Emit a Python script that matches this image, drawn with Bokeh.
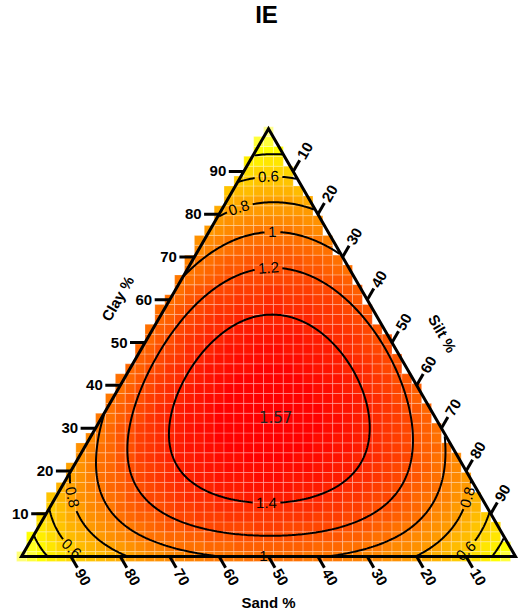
import math
import colorsys
import numpy as np
from bokeh.plotting import figure
from bokeh.models import Range1d
from bokeh.core.properties import value
from bokeh.embed import file_html
from bokeh.resources import INLINE
from contourpy import contour_generator

# ---------------- data ----------------
TITLE = "IE"
# points where the IE surface crosses a contour level (clay %, silt %, IE)
OBS_CLAY = [4.4, 10.7, 21, 34, 49, 64, 78, 86, 92.5,
            5.3, 10.2, 18.4, 27.7, 43.5, 69.5, 82.8, 87.4, 93,
            0, 0, 0, 0, 0, 0, 0,
            93.5, 88.4, 84.2, 77.5, 68.0, 56.7,
            32.7,
            11.5, 30.2, 30.2, 40.4, 40.4, 21.7, 19.4,
            26.4, 4.2, 30.2, 68.5, 53.5, 62.9, 55.2, 11.5, 10.1,
            22.4, 22.4, 74.6, 69.9, 1.4, 1.9, 0.3,
            10, 9.1, 81.6,
            2.1, 3.0,
            100, 0, 0]
OBS_SILT = [0, 0, 0, 0, 0, 0, 0, 0, 0,
            94.7, 89.8, 81.6, 72.3, 56.5, 30.5, 17.2, 12.6, 7,
            5.5, 13, 22, 50, 80, 87.7, 97.5,
            3.25, 5.8, 7.9, 11.25, 16.0, 21.65,
            35.1,
            44.1, 15.5, 54.9, 12, 47.4, 21.4, 58.3,
            7.9, 48.3, 63.2, 12.7, 6.9, 30.5, 41, 20.4, 69.7,
            4.2, 74, 3.0, 28.2, 25.4, 73.8, 48.9,
            6.3, 83.9, 3.1,
            9.5, 87,
            0, 0, 100]
OBS_VALUE = [0.4, 0.6, 0.8, 1.0, 1.12, 1.0, 0.8, 0.6, 0.4,
             0.4, 0.6, 0.8, 1.0, 1.2, 1.0, 0.8, 0.6, 0.4,
             0.4, 0.6, 0.8, 0.97, 0.8, 0.6, 0.4,
             0.4, 0.6, 0.8, 1.0, 1.2, 1.4,
             1.57,
             1.4, 1.4, 1.4, 1.4, 1.4, 1.4, 1.4,
             1.2, 1.2, 1.2, 1.2, 1.2, 1.2, 1.2, 1.2, 1.2,
             1.0, 1.0, 1.0, 1.0, 1.0, 1.0, 1.0,
             0.8, 0.8, 0.8,
             0.6, 0.6,
             0.2, 0.2, 0.2]
CONTOUR_LEVELS = [0.4, 0.6, 0.8, 1.0, 1.2, 1.4]
PEAK_TEXT = "1.57"
PEAK_CLAY = 32.7
PEAK_SILT = 35.1
TICKS = [10, 20, 30, 40, 50, 60, 70, 80, 90]
AXIS_NAMES = ["Clay %", "Silt %", "Sand %"]

# ---------------- layout ----------------
W, H = 522, 611
S = 4.94            # px per ternary unit
PX0, PY0 = 21, 556  # page position of the sand corner
SQ3 = math.sqrt(3) / 2
FONT = value("Liberation Sans")


def page(px, py):
    return (px - PX0) / S, (PY0 - py) / S


def tern_xy(clay, silt):
    clay = np.asarray(clay, float)
    silt = np.asarray(silt, float)
    return silt + clay / 2, clay * SQ3


def basis(c, t):
    x1, x2 = c, t
    x3 = 1 - c - t
    return np.stack([x1, x2, x3, x1 * x2, x1 * x3, x2 * x3,
                     x1 * x2 * (x1 - x2), x1 * x3 * (x1 - x3), x2 * x3 * (x2 - x3),
                     x1 * x2 * (x1 - x2) ** 2, x1 * x3 * (x1 - x3) ** 2, x2 * x3 * (x2 - x3) ** 2,
                     x1 ** 2 * x2 * x3, x1 * x2 ** 2 * x3, x1 * x2 * x3 ** 2], axis=-1)


A = basis(np.array(OBS_CLAY) / 100, np.array(OBS_SILT) / 100)
bv = np.array(OBS_VALUE)
coef = np.linalg.solve(A.T @ A + 1e-5 * np.eye(A.shape[1]), A.T @ bv)


def surface(X, Y):
    clay = Y / SQ3
    silt = X - clay / 2
    return basis(clay / 100, silt / 100) @ coef


ZMAX = float(PEAK_TEXT)
ZYEL = 0.36


def cell_color(z):
    zq = round(z / 0.04) * 0.04
    if zq >= ZYEL:
        hue = 60 * min(max((ZMAX - zq) / (ZMAX - ZYEL), 0), 1)
        sat = 1.0
    else:
        hue = 60
        sat = max(0.45, 1 - (ZYEL - zq) / 0.35)
    r, g, b = colorsys.hsv_to_rgb(hue / 360, sat, 1)
    return "#%02x%02x%02x" % (int(r * 255 + .5), int(g * 255 + .5), int(b * 255 + .5))


p = figure(width=W, height=H, x_range=Range1d(page(0, 0)[0], page(W, 0)[0]),
           y_range=Range1d(page(0, H)[1], page(0, 0)[1]),
           x_axis_type=None, y_axis_type=None, toolbar_location=None,
           output_backend="svg", min_border=0, outline_line_color=None)
p.background_fill_color = "white"

# ---------------- cells ----------------
cx, cy = np.meshgrid(np.arange(0, 100.01, 2), np.arange(0, 87, 2))
cl = cy / SQ3
si = cx - cl / 2
sa = 100 - cl - si
inside = (si >= -1.0) & (sa >= 0.3)
cxs = cx[inside]
cys = cy[inside]
czs = surface(cxs, cys)
p.rect(x=cxs, y=cys, width=2, height=2, fill_color=[cell_color(z) for z in czs],
       line_color="white", line_alpha=0.25, line_width=1)

# ---------------- contours ----------------
gx = np.arange(0, 100.001, 0.4)
gy = np.arange(0, 86.7, 0.4)
GX, GY = np.meshgrid(gx, gy)
GZ = surface(GX, GY)
gcl = GY / SQ3
gsi = GX - gcl / 2
gsa = 100 - gcl - gsi
mask = (gsi < -0.01) | (gsa < -0.01)
gen = contour_generator(x=gx, y=gy, z=np.ma.array(GZ, mask=mask))
lines = {lv: [np.asarray(l) for l in gen.lines(lv) if len(l) > 1] for lv in CONTOUR_LEVELS}

LABELS = [("0.6", 0.6, 268, 178), ("0.8", 0.8, 238, 207), ("1", 1.0, 272, 226),
          ("1.2", 1.2, 267, 265), ("1.4", 1.4, 267, 507), ("1", 1.0, 263, 555),
          ("0.8", 0.8, 73, 497), ("0.6", 0.6, 73, 546), ("0.8", 0.8, 460, 494),
          ("0.6", 0.6, 458, 543)]
FS = 15
lab_x, lab_y, lab_t, lab_a = [], [], [], []
for txt, lv, px, py in LABELS:
    tx, ty = page(px, py)
    best = None
    for k, ln in enumerate(lines[lv]):
        d = np.hypot(ln[:, 0] - tx, ln[:, 1] - ty)
        i = int(np.argmin(d))
        if best is None or d[i] < best[0]:
            best = (d[i], k, i)
    if best is not None and best[0] * S < 16:
        _, k, i = best
        ln = lines[lv][k]
        i0, i1 = max(i - 3, 0), min(i + 3, len(ln) - 1)
        ang = math.atan2(ln[i1, 1] - ln[i0, 1], ln[i1, 0] - ln[i0, 0])
        if ang > math.pi / 2:
            ang -= math.pi
        if ang <= -math.pi / 2:
            ang += math.pi
        cxl, cyl = ln[i]
    else:
        cxl, cyl, ang = tx, ty, 0.0
    lab_x.append(cxl); lab_y.append(cyl); lab_t.append(txt); lab_a.append(ang)
    wpx = FS * sum(0.278 if ch == "." else 0.556 for ch in txt)
    hw = (wpx / 2 + 2) / S
    hh = 6.5 / S
    new = []
    for ln2 in lines[lv]:
        dx = ln2[:, 0] - cxl
        dy = ln2[:, 1] - cyl
        u = dx * math.cos(ang) + dy * math.sin(ang)
        v = -dx * math.sin(ang) + dy * math.cos(ang)
        keep = ~((np.abs(u) < hw) & (np.abs(v) < hh))
        seg = []
        for j in range(len(ln2)):
            if keep[j]:
                seg.append(ln2[j])
            else:
                if len(seg) > 1:
                    new.append(np.array(seg))
                seg = []
        if len(seg) > 1:
            new.append(np.array(seg))
    lines[lv] = new

mxs, mys = [], []
for lv in CONTOUR_LEVELS:
    for ln in lines[lv]:
        mxs.append(list(ln[:, 0])); mys.append(list(ln[:, 1]))
p.multi_line(mxs, mys, line_color="black", line_width=2)

p.text(x=lab_x, y=lab_y, text=lab_t, angle=lab_a, text_font=FONT, text_font_size="15px",
       text_align="center", text_baseline="middle", text_color="black")
pkx, pky = tern_xy(PEAK_CLAY, PEAK_SILT)
p.text(x=[float(pkx)], y=[float(pky)], text=[PEAK_TEXT], text_font=value("DejaVu Sans"),
       text_font_size="15px", text_align="center", text_baseline="middle", text_color="#222222")

# ---------------- ticks ----------------
LC, LO, G = 15 / S, 13 / S, 2.5 / S
txs, tys = [], []
cl_x, cl_y, si_x, si_y, sa_x, sa_y = [], [], [], [], [], []
for k in TICKS:
    ex, ey = tern_xy(k, 0)
    txs.append([ex, ex - LC]); tys.append([ey, ey])
    cl_x.append(ex - LC - G); cl_y.append(ey)
    ex, ey = tern_xy(100 - k, k)
    txs.append([ex, ex + 0.5 * LO]); tys.append([ey, ey + SQ3 * LO])
    si_x.append(ex + 0.5 * (LO + G)); si_y.append(ey + SQ3 * (LO + G))
    ex, ey = tern_xy(0, 100 - k)
    txs.append([ex, ex + 0.5 * LO]); tys.append([ey, ey - SQ3 * LO])
    sa_x.append(ex + 0.5 * (LO + G)); sa_y.append(ey - SQ3 * (LO + G))
p.multi_line(txs, tys, line_color="black", line_width=3)
lbl = [str(k) for k in TICKS]
p.text(x=cl_x, y=cl_y, text=lbl, text_font=FONT, text_font_style="bold", text_font_size="15px",
       text_align="right", text_baseline="middle")
p.text(x=si_x, y=si_y, text=lbl, angle=math.pi / 3, text_font=FONT, text_font_style="bold",
       text_font_size="15px", text_align="left", text_baseline="middle")
p.text(x=sa_x, y=sa_y, text=lbl, angle=-math.pi / 3, text_font=FONT, text_font_style="bold",
       text_font_size="15px", text_align="left", text_baseline="middle")

# ---------------- triangle ----------------
vx, vy = tern_xy([100, 0, 0], [0, 0, 100])
p.patch(x=list(vx), y=list(vy), fill_color=None, line_color="black", line_width=3, line_join="miter")

# ---------------- titles ----------------
ax_pos = [page(117, 298), page(442, 333), page(268, 602)]
ax_ang = [math.pi / 3, -math.pi / 3, 0]
for name, (x, y), a in zip(AXIS_NAMES, ax_pos, ax_ang):
    p.text(x=[x], y=[y], text=[name], angle=a, text_font=FONT, text_font_style="bold",
           text_font_size="15px", text_align="center", text_baseline="middle")
tx, ty = page(266, 14)
p.text(x=[tx], y=[ty], text=[TITLE], text_font=FONT, text_font_style="bold",
       text_font_size="24px", text_align="center", text_baseline="middle")

open("out.html", "w").write(file_html(p, INLINE))
